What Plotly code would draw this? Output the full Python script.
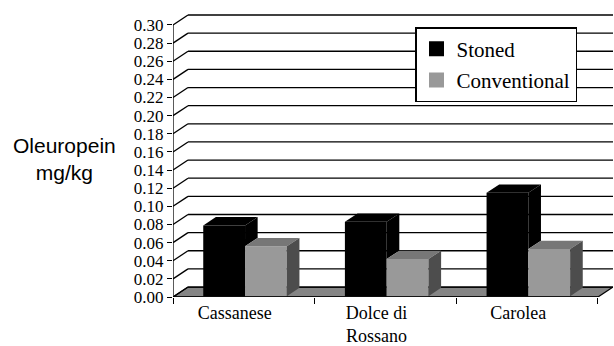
import plotly.graph_objects as go

# ---- data ----
categories = ["Cassanese", "Dolce di<br>Rossano", "Carolea"]
stoned = [0.078, 0.082, 0.114]
conventional = [0.055, 0.041, 0.052]
y_tick_vals = [0.00, 0.02, 0.04, 0.06, 0.08, 0.10, 0.12, 0.14,
               0.16, 0.18, 0.20, 0.22, 0.24, 0.26, 0.28, 0.30]
y_tick_text = [f"{v:.2f}" for v in y_tick_vals]

# ---- 3D styling (depth offsets in axis units) ----
DX = 0.106      # floor depth along x
DY = 0.0110     # floor depth along y
T0, T1 = 0.08, 0.92   # bar front/back planes as fraction of floor depth
BAR_W = 0.295
BLACK = "#000000"
GRAY_FRONT = "#999999"
GRAY_TOP = "#777777"
GRAY_SIDE = "#4d4d4d"
FLOOR = "#858585"

xs = list(range(len(categories)))
fig = go.Figure()

# front faces as real bars
fig.add_trace(go.Bar(x=xs, y=stoned, base=[T0 * DY] * len(xs), width=BAR_W,
                     offset=-BAR_W + T0 * DX, marker=dict(color=BLACK, line=dict(width=0)),
                     showlegend=False, hoverinfo="skip"))
fig.add_trace(go.Bar(x=xs, y=conventional, base=[T0 * DY] * len(xs), width=BAR_W,
                     offset=T0 * DX, marker=dict(color=GRAY_FRONT, line=dict(width=0)),
                     showlegend=False, hoverinfo="skip"))


def poly(pts, color):
    fig.add_trace(go.Scatter(x=[p[0] for p in pts] + [pts[0][0]],
                             y=[p[1] for p in pts] + [pts[0][1]],
                             mode="lines", fill="toself", fillcolor=color,
                             line=dict(width=0, color=color), showlegend=False,
                             hoverinfo="skip"))


def top_face(xl, xr, v, color):
    poly([(xl + T0 * DX, v + T0 * DY), (xr + T0 * DX, v + T0 * DY),
          (xr + T1 * DX, v + T1 * DY), (xl + T1 * DX, v + T1 * DY)], color)


def side_face(xr, v0, v1, color):
    poly([(xr + T0 * DX, v0 + T0 * DY), (xr + T0 * DX, v1 + T0 * DY),
          (xr + T1 * DX, v1 + T1 * DY), (xr + T1 * DX, v0 + T1 * DY)], color)


for i, c in enumerate(xs):
    vb, vg = stoned[i], conventional[i]
    top_face(c - BAR_W, c, vb, BLACK)
    if vb > vg:
        side_face(c, vg, vb, BLACK)
for i, c in enumerate(xs):
    vg = conventional[i]
    top_face(c, c + BAR_W, vg, GRAY_TOP)
    side_face(c + BAR_W, 0, vg, GRAY_SIDE)

# legend entries
fig.add_trace(go.Scatter(x=[None], y=[None], mode="markers", name="Stoned",
                         legendgroup="a",
                         marker=dict(symbol="square", size=15, color=BLACK)))
fig.add_trace(go.Scatter(x=[None], y=[None], mode="markers", name="Conventional",
                         legendgroup="b",
                         marker=dict(symbol="square", size=15, color=GRAY_FRONT)))

# walls, floor, gridlines
x0, x1 = -0.5, len(xs) - 0.5
shapes = [dict(type="path", layer="below",
               path=f"M{x0},0 L{x1},0 L{x1 + DX},{DY} L{x0 + DX},{DY} Z",
               fillcolor=FLOOR, line=dict(color="black", width=1.2))]
for v in y_tick_vals:
    shapes.append(dict(type="line", layer="below", x0=x0 + DX, x1=x1 + DX,
                       y0=v + DY, y1=v + DY, line=dict(color="black", width=1.3)))
    shapes.append(dict(type="line", layer="below", x0=x0, x1=x0 + DX,
                       y0=v, y1=v + DY, line=dict(color="black", width=1.3)))
shapes.append(dict(type="line", x0=x0, x1=x0, y0=0, y1=y_tick_vals[-1],
                   line=dict(color="black", width=1.3)))
shapes.append(dict(type="line", x0=x0, x1=x1, y0=0, y1=0,
                   line=dict(color="black", width=1.3)))

fig.update_layout(
    width=614, height=346,
    margin=dict(l=173, r=1, t=10, b=49),
    paper_bgcolor="white", plot_bgcolor="white",
    barmode="overlay",
    shapes=shapes,
    font=dict(family="Liberation Serif", color="black"),
    xaxis=dict(range=[x0, x1 + DX], tickmode="array", tickvals=xs,
               ticktext=categories, ticks="", showgrid=False, zeroline=False,
               showline=False, ticklabelshift=-9, ticklabelstandoff=3,
               tickfont=dict(size=18, family="Liberation Serif"),
               minor=dict(tickmode="array", tickvals=[-0.5, 0.5, 1.5, 2.5],
                          ticks="outside", ticklen=6, tickcolor="black",
                          tickwidth=1.3, showgrid=False)),
    yaxis=dict(range=[0, 0.3165], tickmode="array", tickvals=y_tick_vals,
               ticktext=y_tick_text, ticks="outside", ticklen=5,
               tickcolor="black", tickwidth=1.3, showgrid=False, zeroline=False,
               showline=False, tickfont=dict(size=17, family="Liberation Serif")),
    legend=dict(x=(415 - 173) / 440, y=(297 - 27) / 287, xanchor="left",
                yanchor="top", bgcolor="white", bordercolor="black",
                borderwidth=1.5, tracegroupgap=1,
                font=dict(size=21, family="Liberation Serif")),
    annotations=[dict(text="Oleuropein<br>mg/kg", xref="paper", yref="paper",
                      x=(64.5 - 173) / 440, y=(297 - 159) / 287,
                      xanchor="center", yanchor="middle", showarrow=False,
                      font=dict(size=21, family="Liberation Sans", color="black"))],
)

fig.write_html("out.html", config={"displayModeBar": False},
               post_script="document.body.style.margin='0';document.body.style.padding='0';")
